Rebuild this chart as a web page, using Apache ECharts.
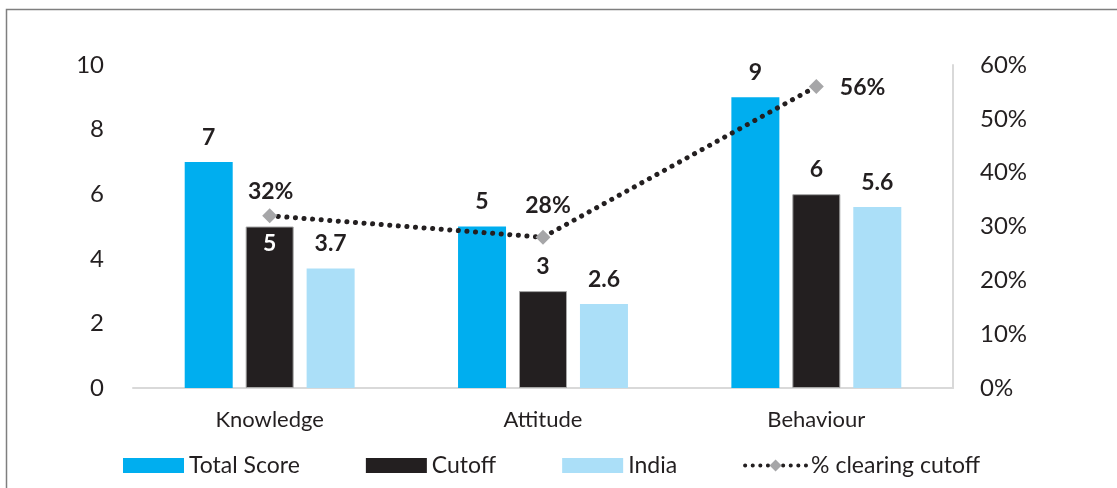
<!DOCTYPE html>
<html><head><meta charset="utf-8">
<script src="https://cdn.jsdelivr.net/npm/echarts@6/dist/echarts.min.js"></script>
<style>html,body{margin:0;padding:0;background:#fff}#c{width:1117px;height:488px}</style>
</head><body><div id="c"></div>
<script>
const categories = ['Knowledge', 'Attitude', 'Behaviour'];
const totalScore = [7, 5, 9];
const cutoff = [5, 3, 6];
const india = [3.7, 2.6, 5.6];
const pctClearing = [32, 28, 56];
const leftTicks = [0, 10, 2];     // min, max, interval
const rightTicks = [0, 60, 10];   // min, max, interval (%)

const FONT = 'Lato';
const TXT = '#231F20';

const chart = echarts.init(document.getElementById('c'), null, {renderer: 'canvas'});

const cutoffData = cutoff.map((v, i) => i === 0
  ? {value: v, label: {position: 'insideTop', distance: 6, color: '#fff'}}
  : {value: v});

const lineLabelPos = [
  {position: 'top', distance: 5, offset: [1, 0]},
  {position: 'top', distance: 13, offset: [5, 0]},
  {position: 'right', distance: 16, offset: [0, 1]}
];
const lineData = pctClearing.map((v, i) => ({value: v, label: lineLabelPos[i]}));

const barLabel = {show: true, position: 'top', distance: 13, fontFamily: FONT, fontWeight: 'bold', fontSize: 23, color: TXT};

chart.setOption({
  animation: false,
  textStyle: {fontFamily: FONT},
  graphic: [{type: 'rect', shape: {x: 6.5, y: 9.5, width: 1300, height: 700}, style: {fill: 'none', stroke: '#7f7f7f', lineWidth: 1.5}}],
  grid: {left: 133, right: 164, top: 65, bottom: 100},
  legend: {
    left: 118, top: 449, itemWidth: 61, itemHeight: 15, itemGap: 66,
    textStyle: {fontFamily: FONT, fontSize: 23, color: TXT},
    data: [
      {name: 'Total Score', icon: 'rect'},
      {name: 'Cutoff', icon: 'rect', itemStyle: {borderWidth: 0}},
      {name: 'India', icon: 'rect'},
      {name: '% clearing cutoff', lineStyle: {width: 4, type: [0.1, 7.5], cap: 'round', color: TXT}}
    ]
  },
  xAxis: {
    type: 'category', data: categories,
    axisLine: {show: true, lineStyle: {color: '#D9D9D9', width: 2}},
    axisTick: {show: false},
    axisLabel: {fontFamily: FONT, fontSize: 22, color: TXT, margin: 21}
  },
  yAxis: [{
    type: 'value', min: leftTicks[0], max: leftTicks[1], interval: leftTicks[2],
    splitLine: {show: false}, axisLine: {show: false}, axisTick: {show: false},
    axisLabel: {fontFamily: FONT, fontSize: 24, color: TXT, margin: 29}
  }, {
    type: 'value', min: rightTicks[0], max: rightTicks[1], interval: rightTicks[2],
    position: 'right',
    splitLine: {show: false}, axisLine: {show: true, lineStyle: {color: '#D9D9D9', width: 2}}, axisTick: {show: false},
    axisLabel: {fontFamily: FONT, fontSize: 24, color: TXT, margin: 27, formatter: '{value}%'}
  }],
  series: [{
    name: 'Total Score', type: 'bar', data: totalScore, barWidth: 48, barGap: '27%',
    itemStyle: {color: '#00AEEF'}, label: barLabel
  }, {
    name: 'Cutoff', type: 'bar', data: cutoffData, barWidth: 48, barGap: '27%',
    itemStyle: {color: '#231F20', borderColor: '#A6A6A6', borderWidth: 1}, label: barLabel
  }, {
    name: 'India', type: 'bar', data: india, barWidth: 48, barGap: '27%',
    itemStyle: {color: '#ABDFF8'}, label: barLabel
  }, {
    name: '% clearing cutoff', type: 'line', yAxisIndex: 1, data: lineData,
    symbol: 'diamond', symbolSize: 15, z: 5,
    itemStyle: {color: '#A6A6A8'},
    lineStyle: {color: TXT, width: 5, type: [0.1, 8.5], cap: 'round'},
    label: {show: true, formatter: '{c}%', fontFamily: FONT, fontWeight: 'bold', fontSize: 23, color: TXT}
  }]
});
</script></body></html>
